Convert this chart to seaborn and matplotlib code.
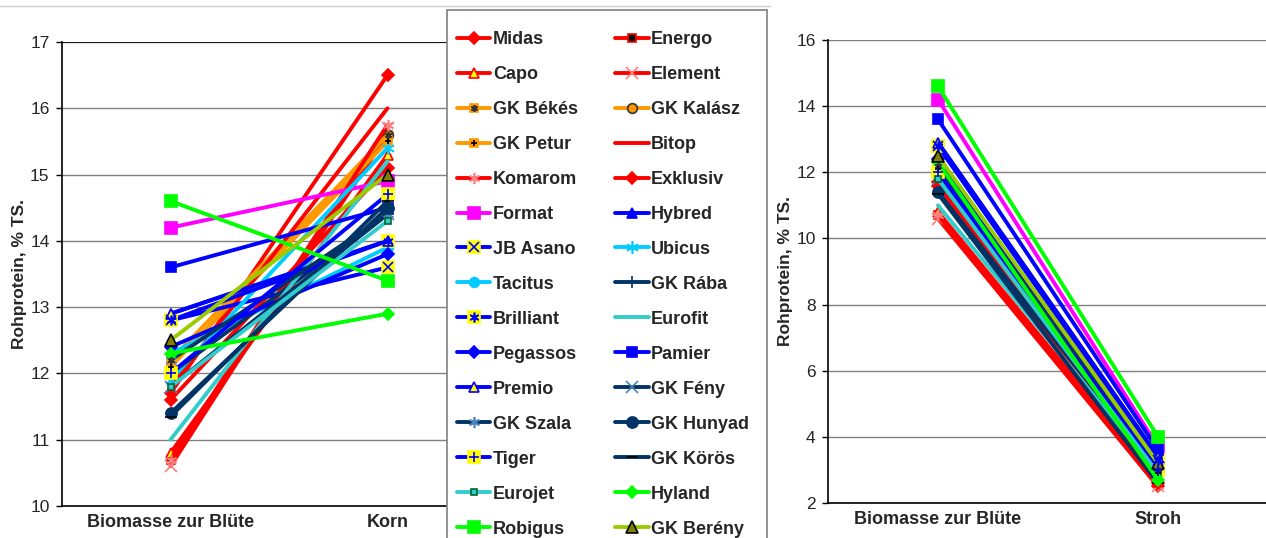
import matplotlib
matplotlib.use("Agg")
import matplotlib.pyplot as plt
from matplotlib.lines import Line2D
from matplotlib.patches import Rectangle
from matplotlib.legend_handler import HandlerTuple
import seaborn as sns
import pandas as pd

categories_left = ["Biomasse zur Blüte", "Korn"]
categories_right = ["Biomasse zur Blüte", "Stroh"]

cultivars = ["Midas", "Energo", "Capo", "Element", "GK Békés", "GK Kalász",
             "GK Petur", "Bitop", "Komarom", "Exklusiv", "Format", "Hybred",
             "JB Asano", "Ubicus", "Tacitus", "GK Rába", "Brilliant", "Eurofit",
             "Pegassos", "Pamier", "Premio", "GK Fény", "GK Szala", "GK Hunyad",
             "Tiger", "GK Körös", "Eurojet", "Hyland", "Robigus", "GK Berény"]

biomasse = [11.7, 10.7, 10.8, 10.6, 12.2, 12.1, 12.1, 11.8, 10.7, 11.6, 14.2, 12.9,
            12.8, 11.9, 12.3, 12.0, 12.8, 11.0, 12.4, 13.6, 12.9, 11.8, 12.2, 11.4,
            12.0, 11.35, 11.8, 12.3, 14.6, 12.5]
korn = [16.5, 15.6, 15.3, 15.7, 15.6, 15.6, 15.5, 16.0, 15.75, 15.1, 14.9, 14.0,
        13.6, 15.4, 13.9, 14.4, 14.0, 15.2, 13.8, 14.5, 14.0, 14.4, 14.4, 14.5,
        14.7, 14.6, 14.3, 12.9, 13.4, 15.0]
stroh = [2.5, 2.6, 2.7, 2.5, 3.0, 3.1, 2.9, 2.6, 2.5, 2.6, 3.7, 3.4,
         3.3, 3.0, 3.1, 3.0, 3.3, 2.9, 3.2, 3.6, 3.4, 3.0, 3.1, 3.0,
         3.0, 2.6, 2.9, 2.7, 4.0, 3.2]

RED = "#ff0000"; ORANGE = "#ff9900"; BLUE = "#0000ff"; NAVY = "#003366"
SKY = "#00ccff"; TURQ = "#33cccc"; LIME = "#00ff00"; YG = "#99cc00"
MAG = "#ff00ff"; YEL = "#ffff00"

# style: (line color, marker, face, edge, size, overlay marker, overlay color)
AST = (6, 2, 0)
styles = {
    "Midas": (RED, "D", RED, RED, 6, None, None),
    "Energo": (RED, "s", "black", RED, 6, None, None),
    "Capo": (RED, "^", YEL, RED, 7, None, None),
    "Element": (RED, "x", "#ff7f7f", "#ff7f7f", 8, None, None),
    "GK Békés": (ORANGE, "s", ORANGE, ORANGE, 6, AST, "#333333"),
    "GK Kalász": (ORANGE, "o", ORANGE, "#333333", 7, None, None),
    "GK Petur": (ORANGE, "s", ORANGE, ORANGE, 6, "+", "black"),
    "Bitop": (RED, None, RED, RED, 6, None, None),
    "Komarom": (RED, AST, "#ff7f7f", "#ff7f7f", 8, None, None),
    "Exklusiv": (RED, "D", RED, RED, 6, None, None),
    "Format": (MAG, "s", MAG, MAG, 8, None, None),
    "Hybred": (BLUE, "^", BLUE, BLUE, 7, None, None),
    "JB Asano": (BLUE, "s", YEL, YEL, 8, "x", BLUE),
    "Ubicus": (SKY, AST, SKY, SKY, 9, None, None),
    "Tacitus": (SKY, "o", SKY, SKY, 7, None, None),
    "GK Rába": (NAVY, "+", NAVY, NAVY, 8, None, None),
    "Brilliant": (BLUE, "s", YEL, YEL, 8, AST, BLUE),
    "Eurofit": (TURQ, None, TURQ, TURQ, 6, None, None),
    "Pegassos": (BLUE, "D", BLUE, BLUE, 6, None, None),
    "Pamier": (BLUE, "s", BLUE, BLUE, 7, None, None),
    "Premio": (BLUE, "^", YEL, BLUE, 7, None, None),
    "GK Fény": (NAVY, "x", "#4f81bd", "#4f81bd", 8, None, None),
    "GK Szala": (NAVY, AST, "#4f81bd", "#4f81bd", 8, None, None),
    "GK Hunyad": (NAVY, "o", NAVY, NAVY, 8, None, None),
    "Tiger": (BLUE, "s", YEL, YEL, 8, "+", BLUE),
    "GK Körös": (NAVY, "_", "black", "black", 8, None, None),
    "Eurojet": (TURQ, "s", TURQ, "#006633", 4, None, None),
    "Hyland": (LIME, "D", LIME, LIME, 6, None, None),
    "Robigus": (LIME, "s", LIME, LIME, 8, None, None),
    "GK Berény": (YG, "^", "#808000", "black", 8, None, None),
}

sns.set_style("white")
plt.rcParams["font.family"] = ["Liberation Sans", "DejaVu Sans"]

W, H = 1266, 538
fig = plt.figure(figsize=(W / 100, H / 100), dpi=100)

def fx(px):
    return px / W

def fy(py):
    return 1 - py / H

axL = fig.add_axes([fx(62), fy(506), fx(496 - 62), fy(42) - fy(506)])
axR = fig.add_axes([fx(828), fy(503), fx(1268 - 828), fy(40) - fy(503)])

LW = 2.8

def draw(ax, first, second):
    for i, c in enumerate(cultivars):
        col, mk, fc, ec, ms, ov, ovc = styles[c]
        df = pd.DataFrame({"x": [0, 1], "y": [first[i], second[i]]})
        kw = {}
        if mk is not None:
            kw = dict(marker=mk, markersize=ms, markerfacecolor=fc,
                      markeredgecolor=ec, markeredgewidth=1.2)
        sns.lineplot(data=df, x="x", y="y", ax=ax, color=col, linewidth=LW,
                     legend=False, zorder=3 + i * 0.01, **kw)
        if ov is not None:
            ax.plot(df["x"], df["y"], linestyle="none", marker=ov, markersize=ms - 1,
                    markeredgecolor=ovc, markerfacecolor=ovc, markeredgewidth=1.2,
                    zorder=3.5 + i * 0.01)

draw(axL, biomasse, korn)
draw(axR, biomasse, stroh)

def style_axis(ax, ylim, step, cats):
    ax.set_xlim(-0.5, 1.5)
    ax.set_ylim(*ylim)
    ax.set_yticks(list(range(ylim[0], ylim[1] + 1, step)))
    ax.set_xticks([0, 1])
    ax.set_xticklabels(cats, fontsize=13, fontweight="bold")
    ax.tick_params(axis="y", labelsize=12.5, length=4, direction="out", left=True,
                   width=1, color="black", pad=5)
    ax.tick_params(axis="x", length=0, pad=6)
    ax.set_xlabel("")
    ax.set_ylabel("Rohprotein, % TS.", fontsize=12.5, fontweight="bold", labelpad=2)
    ax.yaxis.grid(True, color="#808080", linewidth=1)
    ax.set_axisbelow(True)
    ax.spines["right"].set_visible(False)
    ax.spines["top"].set_visible(False)
    ax.spines["left"].set_color("black")
    ax.spines["bottom"].set_color("black")
    ax.spines["left"].set_linewidth(1.2)
    ax.spines["bottom"].set_linewidth(1.2)

style_axis(axL, (10, 17), 1, categories_left)
style_axis(axR, (2, 16), 2, categories_right)
axL.axhline(17, color="black", linewidth=1.2, zorder=1)

# legend box (drawn as a white rectangle running past the bottom edge)
fig.add_artist(Rectangle((fx(447), fy(560)), fx(320), fy(10) - fy(560),
                         transform=fig.transFigure, facecolor="white",
                         edgecolor="#808080", linewidth=1.2, zorder=9))

def make_handle(c):
    col, mk, fc, ec, ms, ov, ovc = styles[c]
    base = Line2D([], [], color=col, linewidth=LW, marker=mk if mk else None,
                  markersize=ms, markerfacecolor=fc, markeredgecolor=ec,
                  markeredgewidth=1.2)
    if ov is not None:
        over = Line2D([], [], linestyle="none", marker=ov, markersize=ms - 1,
                      markeredgecolor=ovc, markerfacecolor=ovc, markeredgewidth=1.2)
        return (base, over)
    return base

order = cultivars[0::2] + cultivars[1::2]
handles = [make_handle(c) for c in order]

leg = fig.legend(handles, order, loc="upper left",
                 bbox_to_anchor=(fx(457), fy(31)), ncol=2, frameon=False,
                 prop={"size": 13, "weight": "bold"}, handlelength=1.85,
                 handletextpad=0.15, labelspacing=0.995, columnspacing=2.05,
                 borderpad=0, borderaxespad=0,
                 handler_map={tuple: HandlerTuple(ndivide=1, pad=0)})
leg.set_zorder(10)

fig.add_artist(Line2D([0, fx(770)], [fy(6), fy(6)], color="#d0d0d0", linewidth=1))

fig.savefig("out.png", dpi=100)
